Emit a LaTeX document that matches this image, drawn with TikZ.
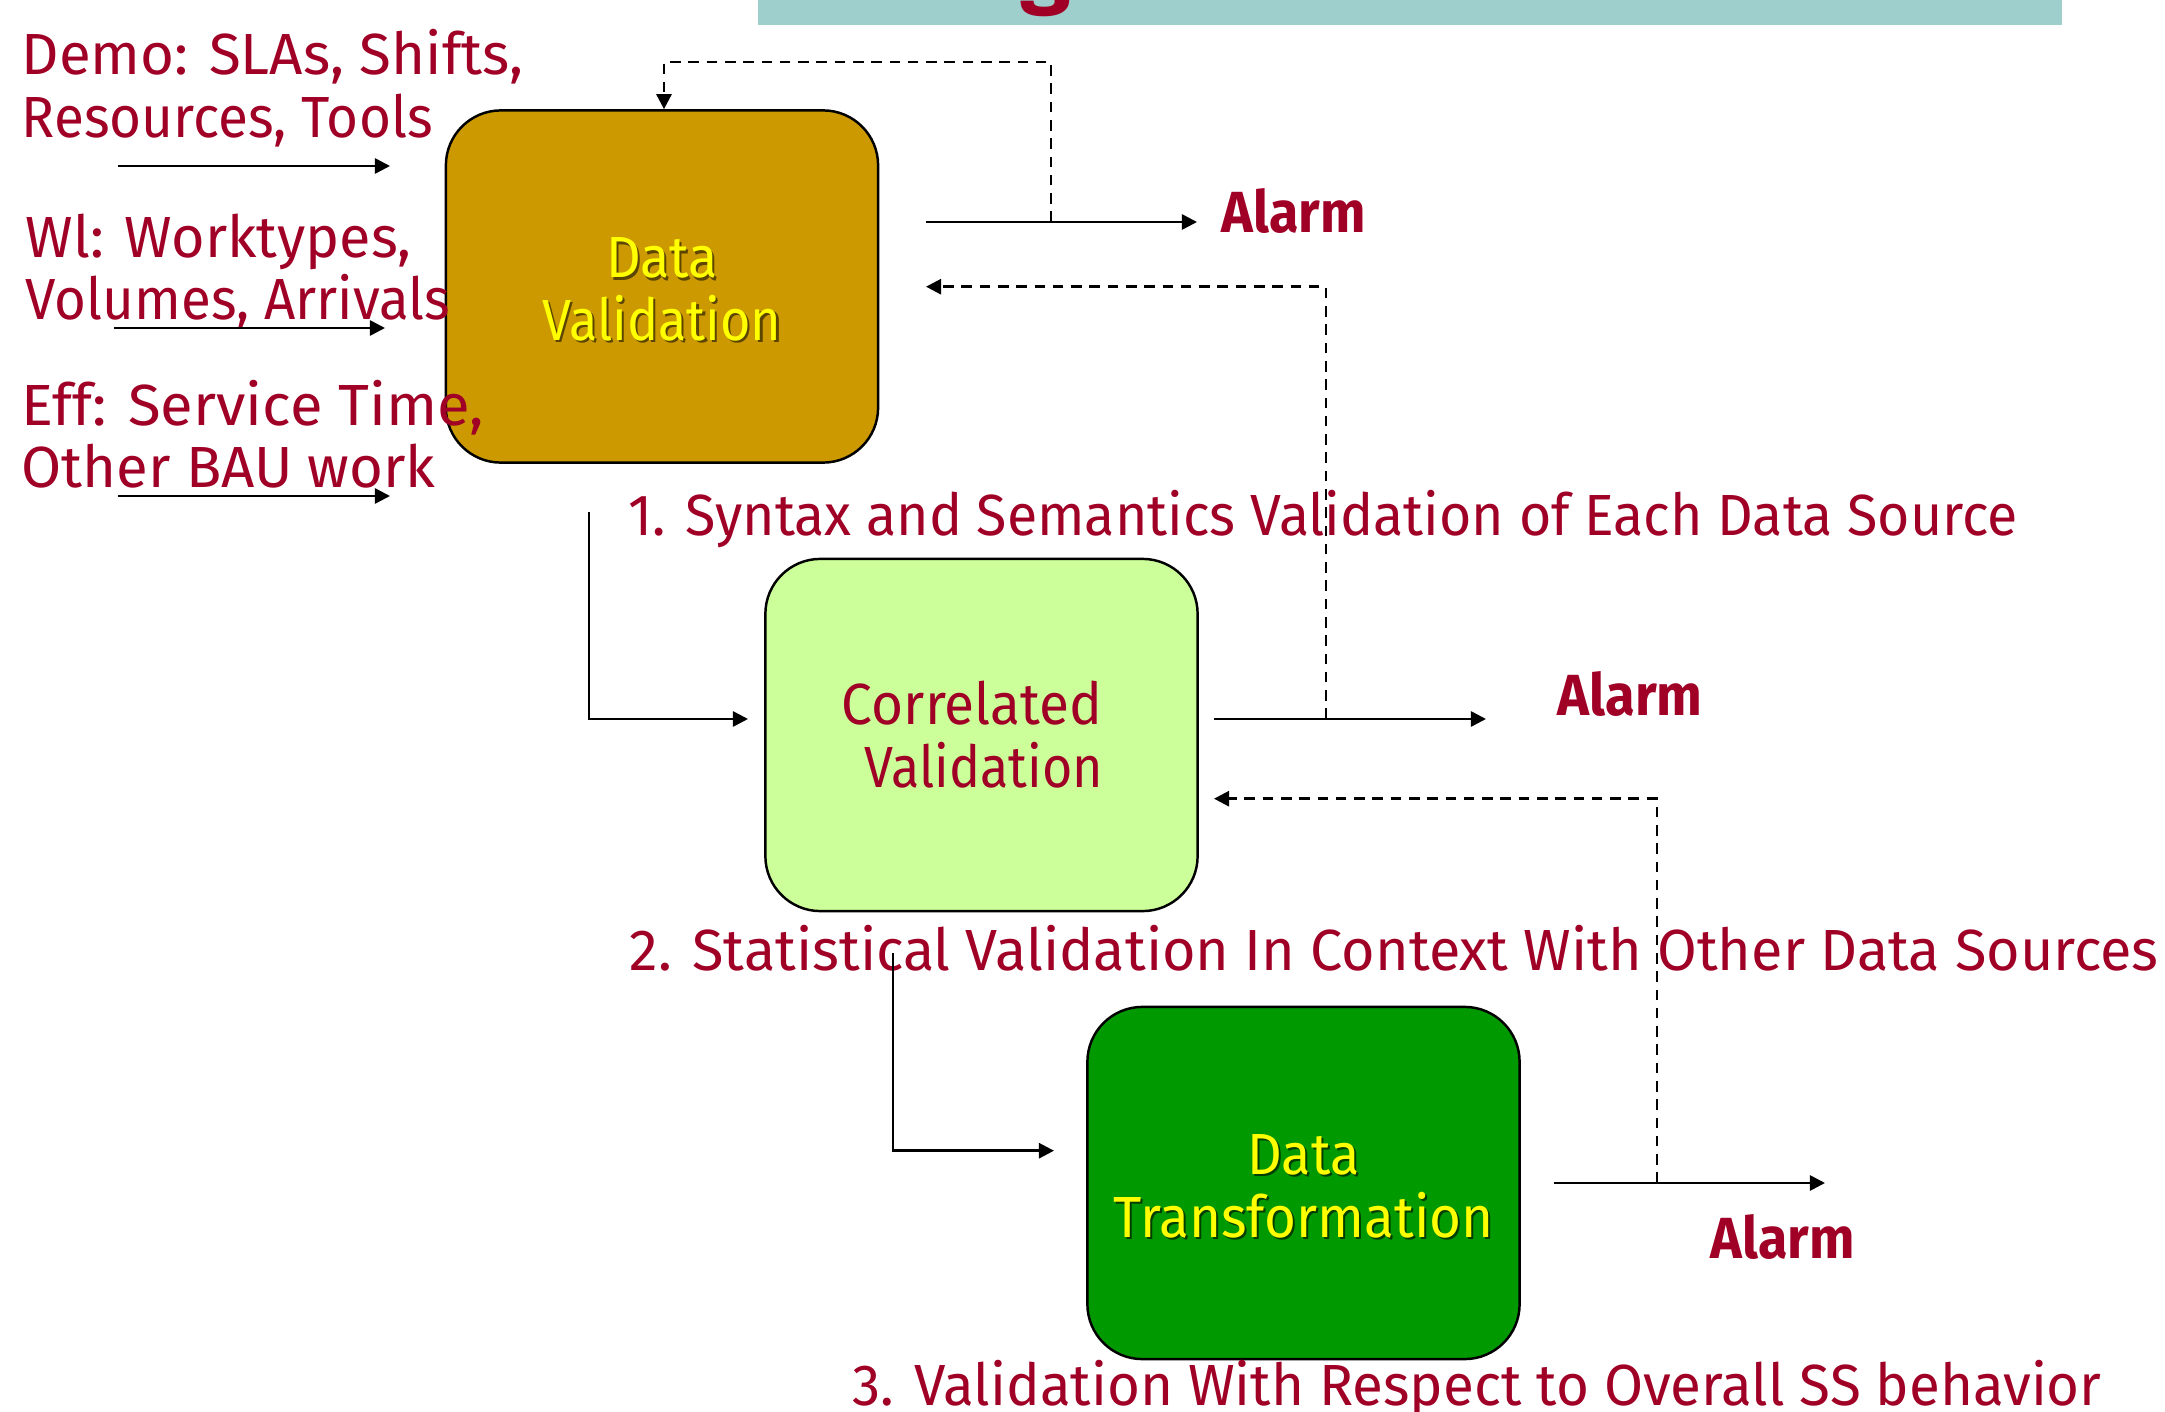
\documentclass[tikz,border=0pt]{standalone}
\usepackage{fontspec}
\setmainfont{Fira Sans}
\usetikzlibrary{arrows.meta}

\definecolor{labelred}{RGB}{160,0,38}
\definecolor{titleteal}{RGB}{158,207,205}
\definecolor{goldfill}{RGB}{204,153,0}
\definecolor{limefill}{RGB}{204,255,153}
\definecolor{greenfill}{RGB}{0,153,0}
\definecolor{sunyellow}{RGB}{255,255,0}

% one pixel of the drawing grid
\newdimen\pxu \pxu=0.01cm
% set a text at a given width (in grid pixels), keeping its height
\newcommand{\fitw}[2]{\resizebox{#1\pxu}{\height}{#2}}
% yellow box text with a soft drop shadow
\newcommand{\shadowline}[3]{\leavevmode\rlap{\hspace{0.6pt}\raisebox{-0.6pt}{\textcolor{#1}{\fitw{#2}{#3}}}}\fitw{#2}{#3}}
% invisible strut that lowers a two-line box text a little
\newcommand{\toppad}{\rule{0pt}{13.8pt}}

\tikzset{
  txt/.style={font=\fontsize{16.5}{17.8}\selectfont, text=labelred, inner sep=0pt},
  alarmtxt/.style={txt, font=\fontsize{16.5}{17.8}\selectfont\bfseries},
  stagebox/.style={draw=black, line width=0.7pt, rounded corners=0.55cm,
    minimum width=4.32cm, minimum height=3.52cm, inner sep=0pt, align=center,
    font=\fontsize{16.5}{17.9}\selectfont},
  flow/.style={line width=0.75pt, -{Triangle[length=4.3pt,width=4.3pt]}},
  feedback/.style={flow, dash pattern=on 3pt off 2.2pt},
}

\begin{document}
\begin{tikzpicture}[x=0.01cm, y=-0.01cm]
\useasboundingbox (0,0) rectangle (2165,1412);

% title strip at the top edge
\fill[titleteal] (758,0) rectangle (2062,24.5);
\node[txt, anchor=base, font=\fontsize{26}{26}\selectfont\bfseries] (titleg) at (1046,-3) {g};

% the three stages
\node[stagebox, fill=goldfill, text=sunyellow] (dv) at (662,286.5)
  {\toppad\shadowline{goldfill!45!black}{112}{Data}\\\shadowline{goldfill!45!black}{239}{Validation}};
\node[stagebox, fill=limefill, text=labelred] (cv) at (981.5,735)
  {\fitw{260}{Correlated}\kern19\pxu\\\kern5\pxu\fitw{238}{Validation}};
\node[stagebox, fill=greenfill, text=sunyellow] (dt) at (1303.5,1183)
  {\toppad\shadowline{greenfill!40!black}{112}{Data}\\\shadowline{greenfill!40!black}{380}{Transformation}};

% inputs on the left
\node[txt, anchor=base west] (demoA) at (21,75) {\fitw{502}{Demo: SLAs, Shifts,}};
\node[txt, anchor=base west] (demoB) at (21,137) {\fitw{411}{Resources, Tools}};
\node[txt, anchor=base west] (wlA) at (25,257) {\fitw{386}{Wl: Worktypes,}};
\node[txt, anchor=base west] (wlB) at (25,320) {\fitw{424}{Volumes, Arrivals}};
\node[txt, anchor=base west] (effA) at (21,425) {\fitw{462}{Eff: Service Time,}};
\node[txt, anchor=base west] (effB) at (21,487) {\fitw{414}{Other BAU work}};

\coordinate (inAs) at (118,166);  \coordinate (inAe) at (390,166);
\coordinate (inBs) at (114,328);  \coordinate (inBe) at (385,328);
\coordinate (inCs) at (118,496);  \coordinate (inCe) at (390,496);
\draw[flow] (inAs) -- (inAe);
\draw[flow] (inBs) -- (inBe);
\draw[flow] (inCs) -- (inCe);

% stage captions
\node[txt, anchor=base west] (capA) at (628,535) {\fitw{1389}{1. Syntax and Semantics Validation of Each Data Source}};
\node[txt, anchor=base west] (capB) at (629,970) {\fitw{1529}{2. Statistical Validation In Context With Other Data Sources}};
\node[txt, anchor=base west] (capC) at (852,1405) {\fitw{1249}{3. Validation With Respect to Overall SS behavior}};

% alarms
\node[alarmtxt, anchor=base west] (alA) at (1221,232) {\fitw{144}{Alarm}};
\node[alarmtxt, anchor=base west] (alB) at (1557,715) {\fitw{145}{Alarm}};
\node[alarmtxt, anchor=base west] (alC) at (1710,1258) {\fitw{144}{Alarm}};

% outputs towards the alarms
\coordinate (outAs) at (926,222);   \coordinate (outAe) at (1197,222);
\coordinate (outBs) at (1214,719);  \coordinate (outBe) at (1486,719);
\coordinate (outCs) at (1554,1183); \coordinate (outCe) at (1825,1183);
\draw[flow] (outAs) -- (outAe);
\draw[flow] (outBs) -- (outBe);
\draw[flow] (outCs) -- (outCe);

% feedback loops
\coordinate (fbA) at (1051,222);
\draw[feedback] (fbA) -- (1051,62) -| ([xshift=2\pxu]dv.north);
\coordinate (fbB) at (1326,719);
\coordinate (fbBe) at (926,286.7);
\draw[feedback] (fbB) -- (1326,286.7) -- (fbBe);
\coordinate (fbC) at (1657,1183);
\coordinate (fbCe) at (1214,798.7);
\draw[feedback] (fbC) -- (1657,798.7) -- (fbCe);

% stage to stage
\coordinate (dnAs) at (589,512);  \coordinate (dnAe) at (748,719);
\draw[flow] (dnAs) |- (dnAe);
\coordinate (dnBs) at (893,953);  \coordinate (dnBe) at (1054,1150.7);
\draw[flow] (dnBs) |- (dnBe);
\end{tikzpicture}
\end{document}
